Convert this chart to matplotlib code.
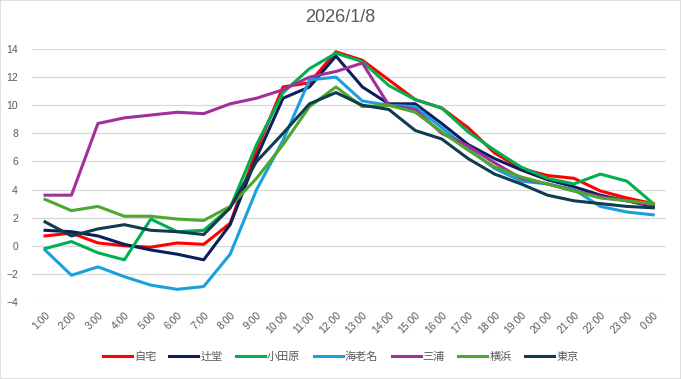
import matplotlib
matplotlib.use("Agg")
import matplotlib.pyplot as plt
from matplotlib.patches import Rectangle

plt.rcParams['font.family'] = ['Liberation Sans', 'Noto Sans CJK JP']

hours = ["1:00", "2:00", "3:00", "4:00", "5:00", "6:00", "7:00", "8:00", "9:00", "10:00",
         "11:00", "12:00", "13:00", "14:00", "15:00", "16:00", "17:00", "18:00", "19:00",
         "20:00", "21:00", "22:00", "23:00", "0:00"]

jitaku = [0.7, 0.9, 0.2, 0.0, -0.1, 0.2, 0.1, 1.6, 6.8, 11.3, 11.6, 13.8,
          13.2, 11.8, 10.4, 9.8, 8.4, 6.6, 5.5, 5.0, 4.8, 3.9, 3.4, 3.0]
tsujido = [1.1, 1.0, 0.7, 0.1, -0.3, -0.6, -1.0, 1.5, 6.3, 10.5, 11.3, 13.5,
           11.3, 10.1, 10.1, 8.7, 7.2, 6.2, 5.4, 4.7, 4.2, 3.6, 3.2, 2.8]
odawara = [-0.2, 0.3, -0.5, -1.0, 1.9, 1.0, 1.1, 2.7, 7.2, 10.9, 12.6, 13.7,
           13.1, 11.4, 10.4, 9.8, 8.1, 6.8, 5.6, 4.8, 4.4, 5.1, 4.6, 3.0]
ebina = [-0.3, -2.1, -1.5, -2.2, -2.8, -3.1, -2.9, -0.6, 4.0, 7.5, 11.8, 12.0,
         10.3, 10.0, 9.9, 8.4, 6.9, 5.5, 4.6, 4.4, 4.0, 2.8, 2.4, 2.2]
miura = [3.6, 3.6, 8.7, 9.1, 9.3, 9.5, 9.4, 10.1, 10.5, 11.1, 12.0, 12.4,
         13.0, 10.0, 9.7, 8.0, 7.1, 5.9, 4.8, 4.4, 3.9, 3.5, 3.2, 2.9]
yokohama = [3.3, 2.5, 2.8, 2.1, 2.1, 1.9, 1.8, 2.8, 4.8, 7.2, 9.9, 11.3,
            9.9, 10.0, 9.5, 8.1, 6.8, 5.6, 4.9, 4.4, 3.9, 3.4, 3.2, 3.0]
tokyo = [1.7, 0.7, 1.2, 1.5, 1.1, 1.0, 0.8, 2.7, 6.0, 8.0, 10.1, 10.9,
         10.0, 9.7, 8.2, 7.6, 6.2, 5.1, 4.4, 3.6, 3.2, 3.0, 2.8, 2.7]

names = ["自宅", "辻堂", "小田原", "海老名", "三浦", "横浜", "東京"]
series = [jitaku, tsujido, odawara, ebina, miura, yokohama, tokyo]
colors = ["#ff0000", "#0a1f5c", "#00b050", "#1aa0dc", "#a0309a", "#4ea72e", "#103c50"]

fig = plt.figure(figsize=(6.81, 3.79), dpi=100)
ax = fig.add_axes([0.0467, 0.2032, 0.932, 0.6675])

x = range(len(hours))
for name, vals, c in zip(names, series, colors):
    ax.plot(x, vals, color=c, lw=2.2, label=name)

ax.set_xlim(-0.5, len(hours) - 0.5)
ax.set_ylim(-4, 14)
ax.set_yticks(range(-4, 15, 2))
ax.set_xticks(list(x))
ax.set_xticklabels(hours, rotation=45, ha='right', rotation_mode='anchor')
ax.tick_params(axis='both', length=0, labelsize=7.5, colors='#595959')
ax.tick_params(axis='y', pad=10)
ax.tick_params(axis='x', pad=6)
ax.grid(axis='y', color='#d9d9d9', lw=0.9)
ax.set_axisbelow(True)
for s in ax.spines.values():
    s.set_visible(False)

# light chart border like the spreadsheet frame
fig.patches.append(Rectangle((0, 0), 1, 1, transform=fig.transFigure, fill=False,
                             edgecolor='#d9d9d9', lw=1.2))

fig.suptitle("2026/1/8", y=0.975, fontsize=13, color='#595959')
fig.legend(loc='center', bbox_to_anchor=(0.5, 0.058), ncol=7, frameon=False,
           prop={'family': ['Noto Sans CJK JP'], 'size': 8}, labelcolor='#595959',
           handlelength=2.6, handletextpad=0.2, columnspacing=1.2)

fig.savefig("out.png", dpi=100)
